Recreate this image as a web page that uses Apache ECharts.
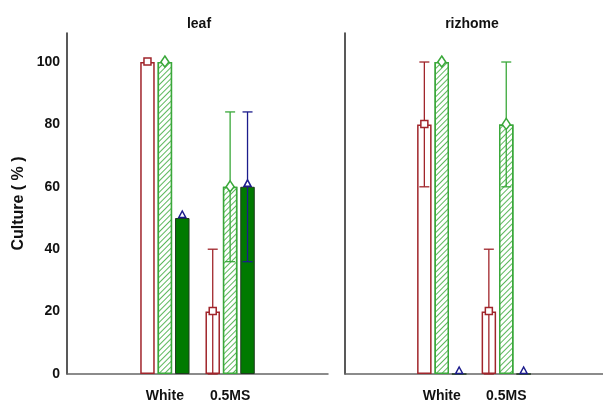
<!DOCTYPE html>
<html>
<head>
<meta charset="utf-8">
<script src="https://cdn.jsdelivr.net/npm/echarts@6/dist/echarts.min.js"></script>
<style>html,body{margin:0;padding:0;background:#fff}#c{width:603px;height:404px}</style>
</head>
<body>
<div id="c"></div>
<script>
var categories = ['', 'White', '0.5MS', ''];
var yTicks = [0, 20, 40, 60, 80, 100];
var panelTitles = ['leaf', 'rizhome'];
var yName = 'Culture ( % )';

// leaf panel
var leafRed = [null, 100, 20, null];
var leafRedLo = [null, 100, 0, null];
var leafRedHi = [null, 100, 40, null];
var leafHatch = [null, 100, 60, null];
var leafHatchLo = [null, 100, 36, null];
var leafHatchHi = [null, 100, 84, null];
var leafSolid = [null, 50, 60, null];
var leafSolidLo = [null, 50, 36, null];
var leafSolidHi = [null, 50, 84, null];

// rizhome panel
var rhRed = [null, 80, 20, null];
var rhRedLo = [null, 60, 0, null];
var rhRedHi = [null, 100, 40, null];
var rhHatch = [null, 100, 80, null];
var rhHatchLo = [null, 100, 60, null];
var rhHatchHi = [null, 100, 100, null];
var rhSolid = [null, 0, 0, null];
var rhSolidLo = [null, 0, 0, null];
var rhSolidHi = [null, 0, 0, null];

var RED = '#a0252b', GREEN = '#3aa83a', DKGREEN = '#007a00', BLUE = '#1c1c8c';
var FONT = "'Liberation Sans', Arial, sans-serif";
var BARW = 14.5, GAP = 0.2, STEP = BARW * (1 + GAP);

function errData(mean, lo, hi) {
  var out = [];
  for (var i = 0; i < mean.length; i++) {
    if (mean[i] !== null) out.push([i, mean[i], lo[i], hi[i]]);
  }
  return out;
}

function makeRender(k, color, marker) {
  return function (params, api) {
    var idx = api.value(0), m = api.value(1), lo = api.value(2), hi = api.value(3);
    var c = api.coord([idx, m]);
    var x = c[0] + (k - 1) * STEP, y = c[1];
    var yl = api.coord([idx, lo])[1], yh = api.coord([idx, hi])[1];
    var children = [];
    var ls = { stroke: color, lineWidth: 1.3 };
    if (hi !== lo) {
      children.push({ type: 'line', shape: { x1: x, y1: yl, x2: x, y2: yh }, style: ls });
      children.push({ type: 'line', shape: { x1: x - 5, y1: yh, x2: x + 5, y2: yh }, style: ls });
      children.push({ type: 'line', shape: { x1: x - 5, y1: yl, x2: x + 5, y2: yl }, style: ls });
    }
    var ms = { fill: '#fff', stroke: color, lineWidth: 1.5 };
    if (marker === 'square') {
      children.push({ type: 'rect', shape: { x: x - 3.5, y: y - 4, width: 7, height: 7 }, style: ms });
    } else if (marker === 'diamond') {
      children.push({ type: 'polygon', shape: { points: [[x, y - 6], [x + 4, y], [x, y + 5], [x - 4, y]] }, style: ms });
    } else {
      children.push({ type: 'polygon', shape: { points: [[x, y - 7], [x + 3.5, y - 0.5], [x - 3.5, y - 0.5]] }, style: ms });
    }
    return { type: 'group', children: children };
  };
}

var hatchStyle = {
  color: '#ffffff', borderColor: GREEN, borderWidth: 1.5,
  decal: { symbol: 'rect', symbolSize: 1, dashArrayX: [[1, 0]], dashArrayY: [1, 3], rotation: -Math.PI / 4, color: '#5cb85c', backgroundColor: '#ffffff' }
};

function panelSeries(p, red, hatch, solid, errs) {
  var s = [
    { type: 'bar', xAxisIndex: p, yAxisIndex: p, data: red, barWidth: BARW, barGap: (GAP * 100) + '%',
      itemStyle: { color: '#ffffff', borderColor: RED, borderWidth: 1.5 }, silent: true },
    { type: 'bar', xAxisIndex: p, yAxisIndex: p, data: hatch, barWidth: BARW, barGap: (GAP * 100) + '%',
      itemStyle: hatchStyle, silent: true },
    { type: 'bar', xAxisIndex: p, yAxisIndex: p, data: solid, barWidth: BARW, barGap: (GAP * 100) + '%',
      itemStyle: { color: DKGREEN, borderColor: '#1e3a1e', borderWidth: 1 }, silent: true }
  ];
  var cols = [RED, GREEN, BLUE], marks = ['square', 'diamond', 'triangle'];
  for (var k = 0; k < 3; k++) {
    s.push({ type: 'custom', xAxisIndex: p, yAxisIndex: p, z: 5, silent: true,
      renderItem: makeRender(k, cols[k], marks[k]), data: errs[k] });
  }
  return s;
}

var series = [].concat(
  panelSeries(0, leafRed, leafHatch, leafSolid, [
    errData(leafRed, leafRedLo, leafRedHi),
    errData(leafHatch, leafHatchLo, leafHatchHi),
    errData(leafSolid, leafSolidLo, leafSolidHi)]),
  panelSeries(1, rhRed, rhHatch, rhSolid, [
    errData(rhRed, rhRedLo, rhRedHi),
    errData(rhHatch, rhHatchLo, rhHatchHi),
    errData(rhSolid, rhSolidLo, rhSolidHi)])
);

function xAxis(g) {
  return { type: 'category', gridIndex: g, data: categories,
    axisLine: { lineStyle: { color: '#666', width: 1.5 } }, axisTick: { show: false },
    axisLabel: { interval: 0, color: '#111', fontFamily: FONT, fontWeight: 'bold', fontSize: 14, margin: 15 } };
}
function yAxis(g, showLabels) {
  return { type: 'value', gridIndex: g, min: 0, max: 109.3, interval: 20,
    splitLine: { show: false }, axisTick: { show: false },
    axisLine: { show: true, lineStyle: { color: '#222', width: 1.5 } },
    axisLabel: { show: showLabels, showMaxLabel: false, color: '#111', fontFamily: FONT, fontWeight: 'bold', fontSize: 14, margin: 7,
      formatter: function (v) { return yTicks.indexOf(v) >= 0 ? String(v) : ''; } },
    name: showLabels ? yName : '', nameLocation: 'middle', nameGap: 40, nameRotate: 90,
    nameTextStyle: { color: '#111', fontFamily: FONT, fontWeight: 'bold', fontSize: 16 } };
}

var chart = echarts.init(document.getElementById('c'), null, { renderer: 'canvas' });
chart.setOption({
  animation: false,
  backgroundColor: '#ffffff',
  title: [
    { text: panelTitles[0], left: 194, top: 12, textAlign: 'center', textStyle: { fontFamily: FONT, fontWeight: 'bold', fontSize: 14, color: '#111' } },
    { text: panelTitles[1], left: 467, top: 12, textAlign: 'center', textStyle: { fontFamily: FONT, fontWeight: 'bold', fontSize: 14, color: '#111' } }
  ],
  grid: [
    { left: 67, top: 33, width: 261, bottom: 30 },
    { left: 345, top: 33, width: 258, bottom: 30 }
  ],
  xAxis: [xAxis(0), xAxis(1)],
  yAxis: [yAxis(0, true), yAxis(1, false)],
  series: series
});
</script>
</body>
</html>
